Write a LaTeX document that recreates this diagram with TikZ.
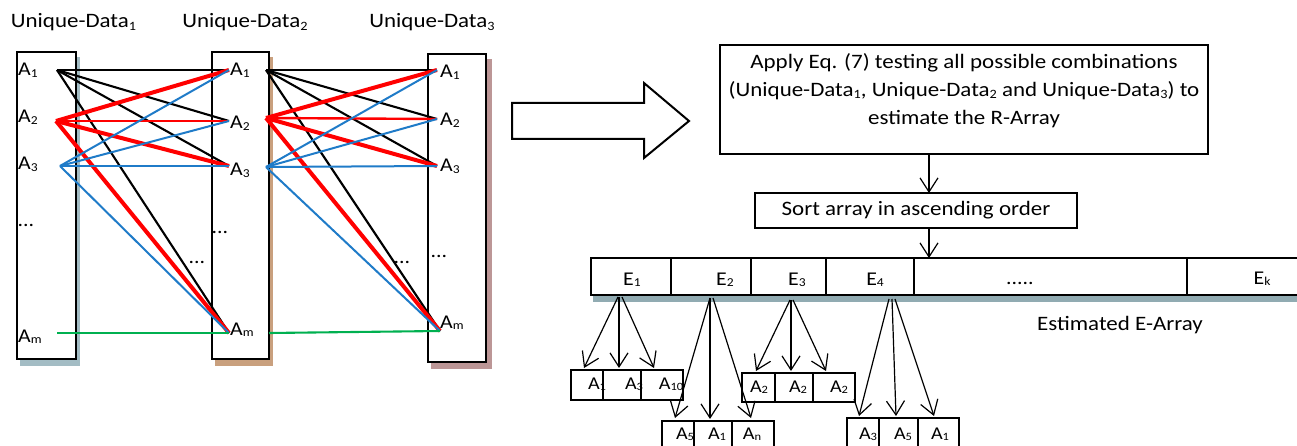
\documentclass[tikz,border=0pt]{standalone}
\usepackage{fontspec}
\setmainfont{Carlito}[FakeStretch=1.12]
\usetikzlibrary{arrows.meta}
\definecolor{myred}{HTML}{FF0000}
\definecolor{myblue}{HTML}{1F7BC8}
\definecolor{mygreen}{HTML}{00B050}
\definecolor{shA}{HTML}{A3BCC4}
\definecolor{shB}{HTML}{C9A07E}
\definecolor{shC}{HTML}{BC9696}
\definecolor{shE}{HTML}{91ABB2}
\newcommand\sbs[1]{\raisebox{-0.1em}{\scalebox{0.62}{#1}}}
\begin{document}
\begin{tikzpicture}[x=1pt,y=-1pt,
  colbox/.style={draw, line width=2.4pt, fill=white, inner sep=0pt},
  lbl/.style={font=\fontsize{19.5}{22}\selectfont, inner sep=0pt},
  ttl/.style={font=\fontsize{20.5}{24}\selectfont, inner sep=0pt},
  slbl/.style={font=\fontsize{18}{20}\selectfont, inner sep=0pt},
  blk/.style={draw=black, line width=2.1pt},
  rdk/.style={draw=myred, line width=4pt},
  rdn/.style={draw=myred, line width=2.4pt},
  blu/.style={draw=myblue, line width=2pt},
  grn/.style={draw=mygreen, line width=2.1pt},
  fbox/.style={draw, line width=2.2pt, inner sep=0pt},
  ecell/.style={draw, line width=2.2pt, fill=white, inner sep=0pt, minimum height=37pt},
  scell/.style={draw, line width=1.3pt, inner sep=0pt},
  arr/.style={line width=1.2pt, -{Straight Barb[length=14pt,width=18pt]}}
]
\useasboundingbox (0,0) rectangle (1297,446);

% ---------- titles ----------
\node[ttl, anchor=base] (t1) at (73.5,28) {Unique-Data\sbs{1}};
\node[ttl, anchor=base] (t2) at (245,28) {Unique-Data\sbs{2}};
\node[ttl, anchor=base] (t3) at (432,28) {Unique-Data\sbs{3}};

% ---------- column boxes with shadows ----------
\fill[shA] (20,57) rectangle (80,366);
\fill[shB] (215,57) rectangle (273,366);
\fill[shC] (431,59) rectangle (492,369);
\node[colbox, minimum width=59pt, minimum height=307pt] (c1) at (46.5,205.5) {};
\node[colbox, minimum width=57pt, minimum height=307pt] (c2) at (240.5,205.5) {};
\node[colbox, minimum width=58pt, minimum height=308pt] (c3) at (457,208) {};

% ---------- end points ----------
\coordinate (p1a1) at (57,70);
\coordinate (p1a2) at (56,121);
\coordinate (p1a3) at (60,166);
\coordinate (p1am) at (57,333);
\coordinate (q2a1) at (229,70);
\coordinate (q2a2) at (229,121);
\coordinate (q2a3) at (229,166);
\coordinate (q2am) at (229,333);
\coordinate (p2a1) at (266,70);
\coordinate (p2a2) at (266,118);
\coordinate (p2a3) at (266,167);
\coordinate (p2am) at (269,333);
\coordinate (q3a1) at (437,70);
\coordinate (q3a2) at (437,119);
\coordinate (q3a3) at (437,166);
\coordinate (q3am) at (440,331);

% ---------- connectors: column 1 -> column 2 ----------
\foreach \t in {a1,a2,a3,am} \draw[blk] (p1a1) -- (q2\t);
\draw[rdk] (p1a2) -- (q2a1);
\draw[rdn] (p1a2) -- (q2a2);
\draw[rdk] (p1a2) -- (q2a3);
\draw[rdk] (p1a2) -- (q2am);
\foreach \t in {a1,a2,a3,am} \draw[blu] (p1a3) -- (q2\t);
\draw[grn] (p1am) -- (q2am);

% ---------- connectors: column 2 -> column 3 ----------
\foreach \t in {a1,a2,a3,am} \draw[blk] (p2a1) -- (q3\t);
\draw[rdk] (p2a2) -- (q3a1);
\draw[rdn] (p2a2) -- (q3a2);
\draw[rdk] (p2a2) -- (q3a3);
\draw[rdk] (p2a2) -- (q3am);
\foreach \t in {a1,a2,a3,am} \draw[blu] (p2a3) -- (q3\t);
\draw[grn] (p2am) -- (q3am);

% ---------- column labels ----------
\node[lbl, anchor=base west] (l1a1) at (18,76) {A\sbs{1}};
\node[lbl, anchor=base west] (l1a2) at (18,123) {A\sbs{2}};
\node[lbl, anchor=base west] (l1a3) at (18,170) {A\sbs{3}};
\node[lbl, anchor=base west] (l1am) at (18,342) {A\sbs{m}};
\node[lbl] (l1d) at (26,225) {...};

\node[lbl, anchor=base west] (l2a1) at (230,76) {A\sbs{1}};
\node[lbl, anchor=base west] (l2a2) at (230,129) {A\sbs{2}};
\node[lbl, anchor=base west] (l2a3) at (230,176) {A\sbs{3}};
\node[lbl, anchor=base west] (l2am) at (230,335) {A\sbs{m}};
\node[lbl] (l2d) at (220,232) {...};
\node[lbl] (l2e) at (197,262) {...};

\node[lbl, anchor=base west] (l3a1) at (440,78) {A\sbs{1}};
\node[lbl, anchor=base west] (l3a2) at (440,126) {A\sbs{2}};
\node[lbl, anchor=base west] (l3a3) at (440,172) {A\sbs{3}};
\node[lbl, anchor=base west] (l3am) at (440,328) {A\sbs{m}};
\node[lbl] (l3d) at (439,256) {...};
\node[lbl] (l3e) at (402,262) {...};

% ---------- hollow arrow ----------
\draw[line width=2pt, line join=miter] (512,103) -- (644,103) -- (644,83) -- (689,121)
  -- (644,158) -- (644,139) -- (512,139) -- cycle;

% ---------- flow boxes ----------
\node[fbox, minimum width=488pt, minimum height=109pt] (eq) at (964,99.5) {};
\node[ttl, align=center, anchor=north, font=\fontsize{20.5}{28}\selectfont] (eqt) at (964,53.5)
  {Apply Eq. (7) testing all possible combinations\\
   (Unique-Data\sbs{1}, Unique-Data\sbs{2} and Unique-Data\sbs{3}) to\\
   estimate the R-Array};
\node[fbox, ttl, minimum width=322pt, minimum height=35pt] (sort) at (916,210.5)
  {Sort array in ascending order};

% ---------- E-array ----------
\fill[shE] (593,295) rectangle (1320,302);
\node[ecell, minimum width=80pt] (E1) at (631,276.5) {};
\node[ecell, minimum width=80pt] (E2) at (711,276.5) {};
\node[ecell, minimum width=75pt] (E3) at (788.5,276.5) {};
\node[ecell, minimum width=88pt] (E4) at (870,276.5) {};
\node[ecell, minimum width=273pt] (E5) at (1050.5,276.5) {};
\node[ecell, minimum width=133pt] (E6) at (1253.5,276.5) {};
\node[lbl, anchor=base] (e1l) at (632,285) {E\sbs{1}};
\node[lbl, anchor=base] (e2l) at (725,285) {E\sbs{2}};
\node[lbl, anchor=base] (e3l) at (797,285) {E\sbs{3}};
\node[lbl, anchor=base] (e4l) at (875,285) {E\sbs{4}};
\node[lbl, anchor=base] (e5l) at (1020,284) {.....};
\node[lbl, anchor=base] (e6l) at (1262,284) {E\sbs{k}};
\node[ttl, anchor=base] (eal) at (1120,330) {Estimated E-Array};

% arrows between flow boxes
\coordinate (eqb) at (929,154);
\coordinate (sortt) at (929,193);
\coordinate (sortb) at (929,228);
\coordinate (eat) at (929,258);
\draw[arr] (eqb) -- (sortt);
\draw[arr] (sortb) -- (eat);

% ---------- sub-arrays ----------
\node[scell, minimum width=32pt, minimum height=30pt] (g11) at (587,385) {};
\node[scell, minimum width=38pt, minimum height=30pt] (g12) at (622,385) {};
\node[scell, minimum width=42pt, minimum height=30pt] (g13) at (662,385) {};
\node[slbl, anchor=base] at (597,389) {A\sbs{1}};
\node[slbl, anchor=base] at (634,389) {A\sbs{3}};
\node[slbl, anchor=base] at (671,389) {A\sbs{10}};

\node[scell, minimum width=32pt, minimum height=40pt] (g21) at (678,441) {};
\node[scell, minimum width=38pt, minimum height=40pt] (g22) at (713,441) {};
\node[scell, minimum width=42pt, minimum height=40pt] (g23) at (753,441) {};
\node[slbl, anchor=base] at (685,439) {A\sbs{5}};
\node[slbl, anchor=base] at (717,439) {A\sbs{1}};
\node[slbl, anchor=base] at (752,439) {A\sbs{n}};

\node[scell, minimum width=33pt, minimum height=29pt] (g31) at (758.5,387.5) {};
\node[scell, minimum width=38pt, minimum height=29pt] (g32) at (794,387.5) {};
\node[scell, minimum width=42pt, minimum height=29pt] (g33) at (834,387.5) {};
\node[slbl, anchor=base] at (759,392) {A\sbs{2}};
\node[slbl, anchor=base] at (798,392) {A\sbs{2}};
\node[slbl, anchor=base] at (839,392) {A\sbs{2}};

\node[scell, minimum width=32pt, minimum height=44pt] (g41) at (863,440) {};
\node[scell, minimum width=39pt, minimum height=44pt] (g42) at (898.5,440) {};
\node[scell, minimum width=41pt, minimum height=44pt] (g43) at (938.5,440) {};
\node[slbl, anchor=base] at (868,439) {A\sbs{3}};
\node[slbl, anchor=base] at (903,439) {A\sbs{5}};
\node[slbl, anchor=base] at (940,439) {A\sbs{1}};

% arrow origins and targets
\coordinate (o11) at (618,297);  \coordinate (t11) at (584,368);
\coordinate (o12) at (619,297);  \coordinate (t12) at (619,368);
\coordinate (o13) at (622,297);  \coordinate (t13) at (654,368);
\coordinate (o21) at (710,298);  \coordinate (t21) at (675,418);
\coordinate (o22) at (710,298);  \coordinate (t22) at (710,419);
\coordinate (o23) at (713,298);  \coordinate (t23) at (751,418);
\coordinate (o31) at (790,300);  \coordinate (t31) at (756,371);
\coordinate (o32) at (791,300);  \coordinate (t32) at (791,371);
\coordinate (o33) at (793,300);  \coordinate (t33) at (826,371);
\coordinate (o41) at (889,299);  \coordinate (t41) at (859,416);
\coordinate (o42) at (892,299);  \coordinate (t42) at (896,416);
\coordinate (o43) at (895,299);  \coordinate (t43) at (934,416);
\foreach \g in {1,2,3,4}
  \foreach \k in {1,2,3}
    \draw[arr] (o\g\k) -- (t\g\k);
\end{tikzpicture}
\end{document}
